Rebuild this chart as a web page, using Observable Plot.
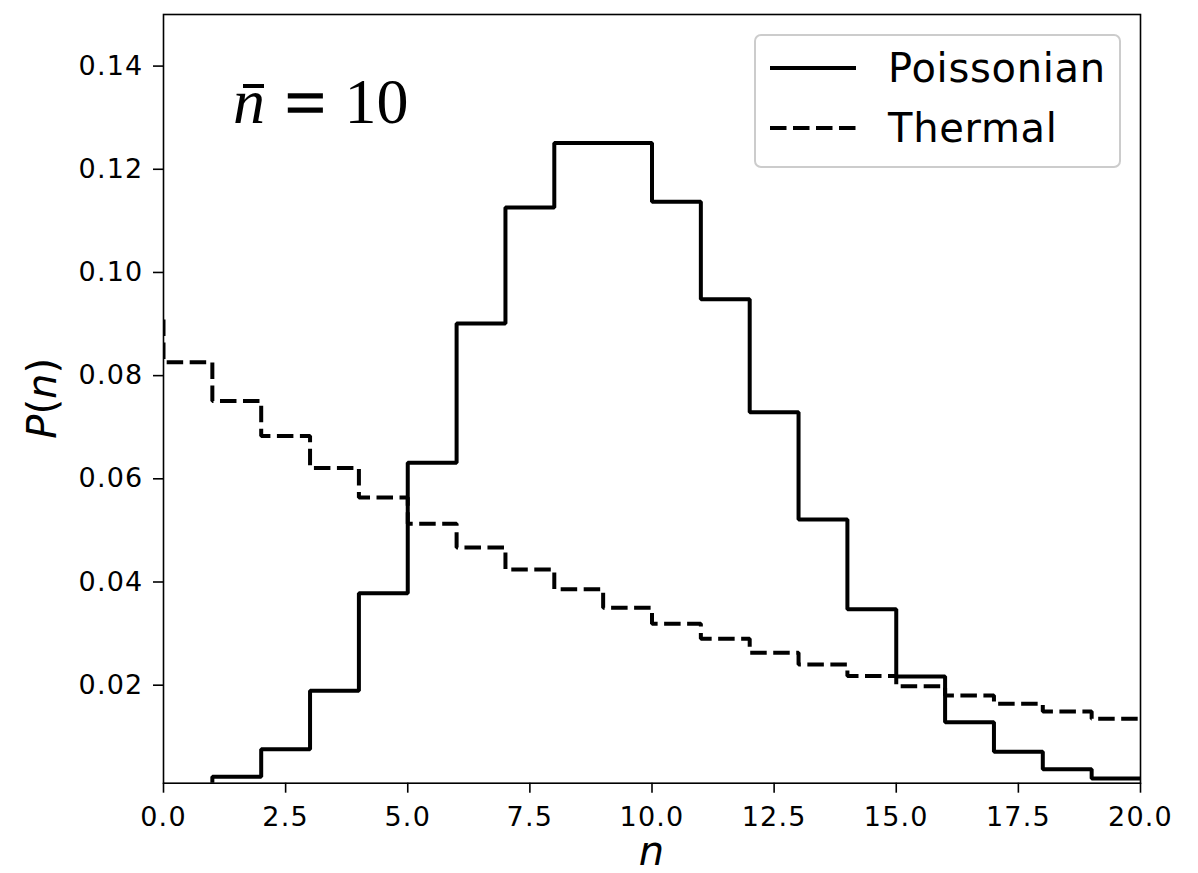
<!DOCTYPE html>
<html>
<head>
<meta charset="utf-8">
<script src="https://cdn.jsdelivr.net/npm/d3@7"></script>
<script src="https://cdn.jsdelivr.net/npm/@observablehq/plot@0.6"></script>
<style>
  html, body { margin: 0; padding: 0; background: white; }
  #chart { position: relative; width: 1198px; height: 873px; }
  #chart svg g[aria-label="x-axis tick label"] text,
  #chart svg g[aria-label="y-axis tick label"] text { letter-spacing: 1.2px; }
</style>
</head>
<body>
<div id="chart"></div>
<script>
// Photon number n
const nValues = [0,1,2,3,4,5,6,7,8,9,10,11,12,13,14,15,16,17,18,19,20];
// Poissonian distribution values
const poissonian = [0.0000454,0.000454,0.00227,0.00757,0.0189,0.0378,0.0631,0.0901,0.1126,0.1251,0.1251,0.1137,0.0948,0.0729,0.0521,0.0347,0.0217,0.0128,0.0071,0.0037,0.0019];
// Thermal distribution values
const thermal = [0.0909,0.0826,0.0751,0.0683,0.0621,0.0564,0.0513,0.0467,0.0424,0.0386,0.0350,0.0319,0.0290,0.0263,0.0240,0.0218,0.0198,0.0180,0.0164,0.0149,0.0135];
// Tick values
const xTicks = [0,2.5,5,7.5,10,12.5,15,17.5,20];
const yTicks = [0.02,0.04,0.06,0.08,0.10,0.12,0.14];
const seriesNames = ["Poissonian","Thermal"];

const poisRows = nValues.map((n,i) => ({n, p: poissonian[i]}));
const thermRows = nValues.map((n,i) => ({n, p: thermal[i]}));

const plot = Plot.plot({
  width: 1198,
  height: 873,
  marginLeft: 163,
  marginRight: 58,
  marginTop: 14,
  marginBottom: 90.3,
  style: {fontFamily: "DejaVu Sans", fontSize: "27px", color: "black", background: "white", overflow: "visible"},
  x: {domain: [0, 20]},
  y: {domain: [0.001, 0.15]},
  marks: [
    Plot.line(poisRows, {x: "n", y: "p", curve: "step-before", stroke: "black", strokeWidth: 4, clip: true, strokeLinejoin: "miter", strokeLinecap: "butt"}),
    Plot.line(thermRows, {x: "n", y: "p", curve: "step-before", stroke: "black", strokeWidth: 4, strokeDasharray: "16.5,6.5", clip: true, strokeLinejoin: "miter", strokeLinecap: "butt"}),
    Plot.frame({stroke: "black", strokeWidth: 1.6}),
    Plot.axisX({ticks: xTicks, tickSize: 10, tickPadding: 14, tickFormat: d3.format(".1f"), label: null, fontSize: 27, strokeWidth: 1.6}),
    Plot.axisY({ticks: yTicks, tickSize: 10, tickPadding: 10, tickFormat: d3.format(".2f"), label: null, fontSize: 27, strokeWidth: 1.6})
  ]
});

document.getElementById("chart").appendChild(plot);

const svg = d3.select(plot);
const sx = plot.scale("x"), sy = plot.scale("y");

// Axis labels
const xMid = (sx.range[0] + sx.range[1]) / 2;
svg.append("text")
  .attr("x", xMid).attr("y", 865)
  .attr("text-anchor", "middle")
  .attr("font-family", "DejaVu Sans").attr("font-style", "italic").attr("font-size", 40)
  .attr("fill", "black")
  .text("n");

const yMid = (sy.range[0] + sy.range[1]) / 2;
const yl = svg.append("text")
  .attr("transform", `translate(56,${yMid}) rotate(-90)`)
  .attr("text-anchor", "middle")
  .attr("font-family", "DejaVu Sans").attr("font-size", 40)
  .attr("fill", "black");
yl.append("tspan").attr("font-style", "italic").text("P");
yl.append("tspan").text("(");
yl.append("tspan").attr("font-style", "italic").text("n");
yl.append("tspan").text(")");

// Annotation n̄ = 10
const ann = svg.append("text")
  .attr("x", 233).attr("y", 123)
  .attr("text-anchor", "start")
  .attr("font-family", "Liberation Serif").attr("font-size", 64)
  .attr("fill", "black");
ann.append("tspan").attr("font-style", "italic").text("n");
ann.append("tspan").attr("dx", 20).attr("dy", 4).attr("font-size", 72)
  .attr("stroke", "black").attr("stroke-width", 1.6).text("=");
ann.append("tspan").attr("dx", 19).attr("dy", -4).text("10");
svg.append("rect").attr("x", 243).attr("y", 84).attr("width", 21).attr("height", 4).attr("fill", "black");

// Legend
const lg = svg.append("g");
lg.append("rect")
  .attr("x", 755).attr("y", 35).attr("width", 365).attr("height", 132)
  .attr("rx", 6).attr("fill", "white").attr("fill-opacity", 0.8)
  .attr("stroke", "#cccccc").attr("stroke-width", 2);
const rows = [
  {name: seriesNames[0], dash: null, ly: 68, ty: 82},
  {name: seriesNames[1], dash: "16.5,6.5", ly: 128, ty: 142}
];
rows.forEach(r => {
  const l = lg.append("line")
    .attr("x1", 770).attr("x2", 856).attr("y1", r.ly).attr("y2", r.ly)
    .attr("stroke", "black").attr("stroke-width", 4);
  if (r.dash) l.attr("stroke-dasharray", r.dash);
  lg.append("text")
    .attr("x", 888).attr("y", r.ty)
    .attr("text-anchor", "start")
    .attr("font-family", "DejaVu Sans").attr("font-size", 40)
    .attr("letter-spacing", 0.7)
    .attr("fill", "black")
    .text(r.name);
});
</script>
</body>
</html>
